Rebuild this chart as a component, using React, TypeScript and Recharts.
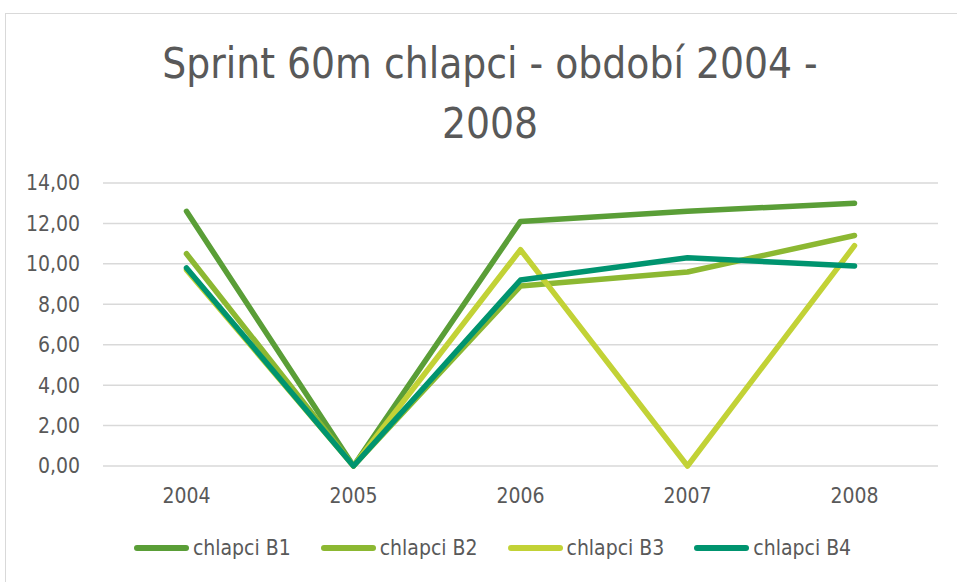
import React from "react";
import { LineChart, Line, XAxis, YAxis, CartesianGrid } from "recharts";

const years = ["2004", "2005", "2006", "2007", "2008"];
const chlapciB1 = [12.6, 0, 12.1, 12.6, 13.0];
const chlapciB2 = [10.5, 0, 8.9, 9.6, 11.4];
const chlapciB3 = [9.7, 0, 10.7, 0, 10.9];
const chlapciB4 = [9.8, 0, 9.2, 10.3, 9.9];
const seriesNames = ["chlapci B1", "chlapci B2", "chlapci B3", "chlapci B4"];
const seriesColors = ["#5A9E37", "#8CB832", "#C2D236", "#00946F"];
const yTicks = [0, 2, 4, 6, 8, 10, 12, 14];
const titleLines = ["Sprint 60m chlapci - období 2004 -", "2008"];

const seriesValues = [chlapciB1, chlapciB2, chlapciB3, chlapciB4];
const data = years.map((y, i) => {
  const row: Record<string, string | number> = { year: y };
  seriesNames.forEach((n, k) => {
    row[n] = seriesValues[k][i];
  });
  return row;
});

const FONT = "'Liberation Sans Narrow', 'DejaVu Sans Condensed', sans-serif";
const TEXT = "#595959";

export default function App() {
  return (
    <div style={{ position: "absolute", left: 0, top: 0, width: 957, height: 582, background: "#fff", overflow: "hidden", fontFamily: FONT }}>
      <div style={{ position: "absolute", left: 5, top: 13, width: 980, height: 600, border: "1px solid #d9d9d9" }} />
      <div style={{ position: "absolute", left: 0, top: 34, width: 980, textAlign: "center", color: TEXT, fontSize: 42, lineHeight: "60px" }}>
        {titleLines.map((t) => (
          <div key={t}>{t}</div>
        ))}
      </div>
      <div style={{ position: "absolute", left: 0, top: 0 }}>
        <LineChart width={957} height={582} data={data} margin={{ top: 183, right: 19, bottom: 86, left: 0 }}>
          <CartesianGrid horizontal vertical={false} stroke="#d9d9d9" strokeWidth={1.5} />
          <XAxis
            dataKey="year"
            height={30}
            axisLine={false}
            tickLine={false}
            tickSize={0}
            tickMargin={22}
            padding={{ left: 83.5, right: 83.5 }}
            tick={{ fill: TEXT, fontSize: 21, fontFamily: FONT }}
          />
          <YAxis
            width={103}
            domain={[0, 14]}
            ticks={yTicks}
            axisLine={false}
            tickLine={false}
            tickSize={0}
            tickMargin={23}
            tickFormatter={(v: number) => v.toFixed(2).replace(".", ",")}
            tick={{ fill: TEXT, fontSize: 21, fontFamily: FONT }}
          />
          {seriesNames.map((n, k) => (
            <Line
              key={n}
              type="linear"
              dataKey={n}
              stroke={seriesColors[k]}
              strokeWidth={5.5}
              strokeLinecap="round"
              strokeLinejoin="round"
              dot={false}
              activeDot={false}
              isAnimationActive={false}
            />
          ))}
        </LineChart>
      </div>
      <div style={{ position: "absolute", left: 0, top: 536, width: 985, display: "flex", justifyContent: "center", alignItems: "center", color: TEXT, fontSize: 21 }}>
        {seriesNames.map((n, k) => (
          <div key={n} style={{ display: "flex", alignItems: "center", margin: "0 15px" }}>
            <div style={{ width: 55, height: 5.5, borderRadius: 3, background: seriesColors[k], marginRight: 4 }} />
            <span>{n}</span>
          </div>
        ))}
      </div>
    </div>
  );
}
